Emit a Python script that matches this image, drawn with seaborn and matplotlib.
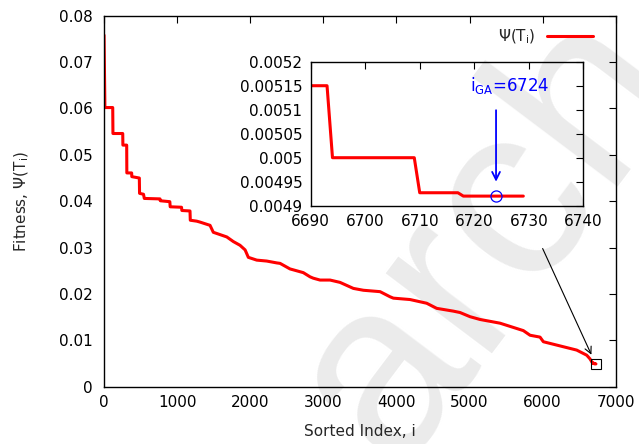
import matplotlib
matplotlib.use("Agg")
import matplotlib.pyplot as plt
import seaborn as sns
import pandas as pd

# Sorted fitness curve: breakpoints (sorted index, fitness value)
sorted_index = [0, 12, 119, 122, 256, 258, 310, 312, 378, 380, 483, 486, 540, 551,
                766, 770, 900, 905, 1060, 1065, 1176, 1180, 1268, 1313, 1450, 1495,
                1679, 1769, 1860, 1930, 1974, 2089, 2225, 2362, 2408, 2544, 2590,
                2726, 2818, 2863, 2955, 3092, 3228, 3411, 3548, 3776, 3912, 3958,
                4186, 4414, 4551, 4778, 4870, 5007, 5144, 5417, 5736, 5828, 5964,
                6010, 6238, 6466, 6603, 6648, 6680, 6693, 6694, 6709, 6710, 6717,
                6718, 6729]
fitness = [0.0758, 0.0602, 0.0602, 0.0546, 0.0546, 0.0521, 0.0521, 0.0461, 0.0461,
           0.0453, 0.0450, 0.0417, 0.0415, 0.0406, 0.0405, 0.0401, 0.0399, 0.0388,
           0.0387, 0.0380, 0.0379, 0.0359, 0.0357, 0.0355, 0.0348, 0.0333, 0.0323,
           0.0313, 0.0305, 0.0295, 0.0279, 0.0273, 0.0271, 0.0267, 0.0266, 0.0254,
           0.0252, 0.0246, 0.0237, 0.0234, 0.0230, 0.0230, 0.0225, 0.0212, 0.0208,
           0.0205, 0.0194, 0.0191, 0.0188, 0.0180, 0.0169, 0.0163, 0.0160, 0.0151,
           0.0145, 0.0137, 0.0121, 0.0111, 0.0107, 0.0097, 0.0088, 0.0079, 0.0068,
           0.0060, 0.00515, 0.00515, 0.00500, 0.00500, 0.004927, 0.004927, 0.00492,
           0.00492]

ga_index = 6724
ga_fitness = 0.00492

main_xticks = [0, 1000, 2000, 3000, 4000, 5000, 6000, 7000]
main_yticks = [0, 0.01, 0.02, 0.03, 0.04, 0.05, 0.06, 0.07, 0.08]
main_ylabels = ["0", "0.01", "0.02", "0.03", "0.04", "0.05", "0.06", "0.07", "0.08"]
inset_xticks = [6690, 6700, 6710, 6720, 6730, 6740]
inset_yticks = [0.0049, 0.00495, 0.005, 0.00505, 0.0051, 0.00515, 0.0052]
inset_ylabels = ["0.0049", "0.00495", "0.005", "0.00505", "0.0051", "0.00515", "0.0052"]

df = pd.DataFrame({"i": sorted_index, "psi": fitness})

sns.set_theme(style="white")
plt.rcParams["font.family"] = ["DejaVu Sans"]
plt.rcParams["mathtext.fontset"] = "dejavusans"
FS = 11

fig = plt.figure(figsize=(6.39, 4.44), dpi=100)

# faint watermark behind the plot
fig.text(0.765, 0.47, "arch", fontsize=180, color="#ebebeb", rotation=53,
         family="Liberation Sans", ha="center", va="center", zorder=-5)

ax = fig.add_axes([0.1628, 0.129, 0.8008, 0.8356])
ax.patch.set_alpha(0)
sns.lineplot(data=df, x="i", y="psi", ax=ax, color="#ff0000", lw=2.2,
             label="Ψ(T$_\\mathregular{i}$)", sort=False, estimator=None)
ax.set_xlim(0, 7000)
ax.set_ylim(0, 0.08)
ax.set_xticks(main_xticks)
ax.set_yticks(main_yticks)
ax.set_yticklabels(main_ylabels)
ax.set_xlabel("Sorted Index, i", fontsize=FS, labelpad=10)
ax.set_ylabel("Fitness, Ψ(T$_\\mathregular{i}$)", fontsize=FS, labelpad=20)
ax.tick_params(direction="in", length=5, width=0.8, top=True, right=True,
               labelsize=FS, colors="black", pad=8)
ax.tick_params(axis="x", pad=6)
for s in ax.spines.values():
    s.set_color("black")
    s.set_linewidth(1.0)

# zoom box marker at the tail and pointer arrow
ax.plot(sorted_index[-1], fitness[-1], marker="s", ms=7, mfc="none", mec="black", mew=0.8)
ax.annotate("", xy=(6667, 0.0069), xytext=(6000, 0.0298),
            arrowprops=dict(arrowstyle="->", color="black", lw=0.8,
                            mutation_scale=12, shrinkA=0, shrinkB=0))

leg = ax.legend(loc="upper right", bbox_to_anchor=(0.977, 0.998), frameon=False,
                markerfirst=False, handlelength=3.0, fontsize=FS,
                handletextpad=0.8, borderaxespad=0.3)

# inset zoom
ins = fig.add_axes([0.4862, 0.5367, 0.4266, 0.3243])
ins.patch.set_alpha(0)
sns.lineplot(data=df, x="i", y="psi", ax=ins, color="#ff0000", lw=2.2,
             sort=False, estimator=None, legend=False)
ins.set_xlim(6690, 6740)
ins.set_ylim(0.0049, 0.0052)
ins.set_xticks(inset_xticks)
ins.set_yticks(inset_yticks)
ins.set_yticklabels(inset_ylabels)
ins.set_xlabel("")
ins.set_ylabel("")
ins.tick_params(direction="in", length=5, width=0.8, top=True, right=True,
                labelsize=FS, colors="black", pad=6)
for s in ins.spines.values():
    s.set_color("black")
    s.set_linewidth(1.0)

ins.plot(ga_index, ga_fitness, marker="o", ms=8, mfc="none", mec="#0000ff", mew=0.9)
ins.annotate("", xy=(ga_index, 0.00495), xytext=(ga_index, 0.005099),
             arrowprops=dict(arrowstyle="->", color="#0000ff", lw=1.3,
                             mutation_scale=14, shrinkA=0, shrinkB=0))
ins.text(ga_index + 2.5, 0.005151, "i$_\\mathregular{GA}$=%d" % ga_index,
         color="#0000ff", fontsize=FS + 1, ha="center", va="center")

fig.savefig("out.png", dpi=100)
